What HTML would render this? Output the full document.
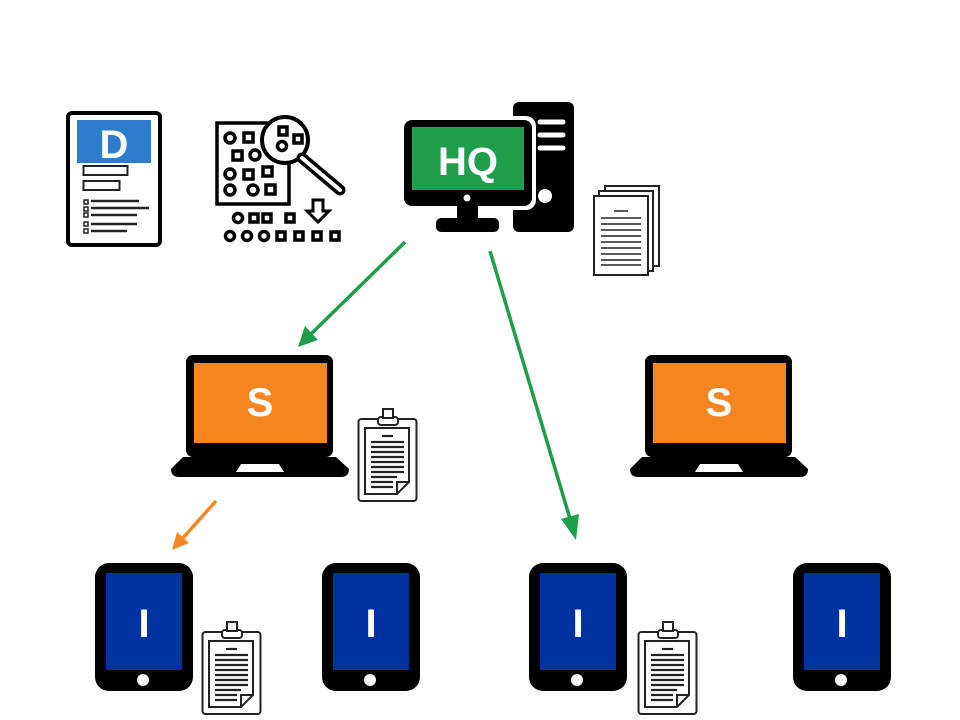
<!DOCTYPE html>
<html><head><meta charset="utf-8"><style>html,body{margin:0;padding:0;background:#fff}svg{display:block}text{font-family:"Liberation Sans",sans-serif;font-weight:bold;fill:#fff}</style></head>
<body>
<svg width="960" height="720" viewBox="0 0 960 720" xmlns="http://www.w3.org/2000/svg">
<defs>
<g id="clip">
  <rect x="1.5" y="11" width="58" height="82" rx="3" fill="#fff" stroke="#222" stroke-width="2"/>
  <path d="M8 20 H52 V74 L40 86 H8 Z" fill="#fff" stroke="#222" stroke-width="2"/>
  <path d="M40 86 V74 H52" fill="none" stroke="#222" stroke-width="2"/>
  <rect x="21" y="9" width="20" height="8" rx="3" fill="#fff" stroke="#222" stroke-width="2"/>
  <rect x="26" y="1" width="10" height="9" fill="#fff" stroke="#222" stroke-width="2"/>
  <g stroke="#222" stroke-width="2.2">
    <line x1="25" y1="28" x2="36" y2="28"/>
    <line x1="14" y1="34" x2="47" y2="34"/><line x1="14" y1="39" x2="47" y2="39"/>
    <line x1="14" y1="44" x2="47" y2="44"/><line x1="14" y1="49" x2="47" y2="49"/>
    <line x1="14" y1="54" x2="47" y2="54"/><line x1="14" y1="59" x2="47" y2="59"/>
    <line x1="14" y1="64" x2="47" y2="64"/><line x1="14" y1="69" x2="40" y2="69"/>
    <line x1="14" y1="74" x2="36" y2="74"/><line x1="14" y1="79" x2="36" y2="79"/>
  </g>
</g>
<g id="tab">
  <rect x="0" y="0" width="98" height="128" rx="14" fill="#000"/>
  <rect x="11" y="10" width="76" height="97" fill="#0033a0"/>
  <circle cx="48" cy="117" r="6" fill="#fff"/>
  <text x="49" y="74" font-size="40" text-anchor="middle">I</text>
</g>
<g id="lap">
  <rect x="15" y="0" width="147" height="102" rx="7" fill="#000"/>
  <rect x="23" y="8" width="133" height="80" fill="#f5861f"/>
  <path d="M12 102 H165 L178 114 Q178 122 170 122 H8 Q0 122 0 114 Z" fill="#000"/>
  <path d="M70 109 H108 L113 117 H65 Z" fill="#fff"/>
  <text x="89" y="61" font-size="40" text-anchor="middle">S</text>
</g>
</defs>

<!-- D document -->
<rect x="68" y="113" width="92" height="132" rx="4" fill="#fff" stroke="#000" stroke-width="4"/>
<rect x="77" y="120" width="74" height="43" fill="#2e7ccc"/>
<text x="114" y="158" font-size="40" text-anchor="middle">D</text>
<rect x="83.5" y="166" width="44" height="9" fill="#fff" stroke="#222" stroke-width="2"/>
<rect x="83.5" y="181" width="36" height="9" fill="#fff" stroke="#222" stroke-width="2"/>
<g fill="#fff" stroke="#222" stroke-width="1.5">
<rect x="84" y="200" width="4" height="4"/><rect x="84" y="207" width="4" height="4"/><rect x="84" y="213" width="4" height="4"/><rect x="84" y="222" width="4" height="4"/><rect x="84" y="229" width="4" height="4"/>
</g>
<g stroke="#222" stroke-width="2.5">
<line x1="91" y1="201" x2="139" y2="201"/><line x1="91" y1="208" x2="149" y2="208"/><line x1="91" y1="215" x2="137" y2="215"/><line x1="91" y1="224" x2="137" y2="224"/><line x1="91" y1="231" x2="127" y2="231"/>
</g>

<!-- pattern icon -->
<rect x="217" y="123" width="72" height="81" fill="#fff" stroke="#000" stroke-width="3.5"/>
<g fill="none" stroke="#000" stroke-width="3.5">
<circle cx="230" cy="138" r="5"/><rect x="244" y="133" width="9" height="9"/>
<rect x="233" y="151" width="9" height="9"/><circle cx="255" cy="155" r="5"/>
<rect x="244" y="170" width="9" height="9"/><circle cx="230" cy="174" r="5"/><rect x="263" y="167" width="9" height="9"/>
<circle cx="230" cy="190" r="5"/><circle cx="253" cy="190" r="5"/><rect x="266" y="185" width="9" height="9"/>
<circle cx="238" cy="218" r="4.5"/><rect x="250" y="214" width="8" height="8"/><rect x="263" y="214" width="8" height="8"/><rect x="286" y="214" width="8" height="8"/>
<circle cx="230" cy="236" r="4.5"/><circle cx="247" cy="236" r="4.5"/><circle cx="264" cy="236" r="4.5"/><rect x="277" y="232" width="8" height="8"/><rect x="295" y="232" width="8" height="8"/><rect x="313" y="232" width="8" height="8"/><rect x="331" y="232" width="8" height="8"/>
</g>
<circle cx="285" cy="140" r="23" fill="#fff" stroke="#000" stroke-width="4"/>
<g fill="none" stroke="#000" stroke-width="3.5">
<rect x="279" y="127" width="8" height="8"/><rect x="294" y="135" width="8" height="8"/><circle cx="282" cy="146" r="4.5"/>
</g>
<line x1="302" y1="158" x2="340" y2="190" stroke="#000" stroke-width="11" stroke-linecap="round"/>
<line x1="302" y1="158" x2="340" y2="190" stroke="#fff" stroke-width="4" stroke-linecap="round"/>
<path d="M313 200 H323 V211 H329 L318 222 L307 211 H313 Z" fill="#fff" stroke="#000" stroke-width="3"/>

<!-- HQ -->
<rect x="513" y="102" width="61" height="130" rx="6" fill="#000"/>
<g stroke="#fff" stroke-width="5" stroke-linecap="round"><line x1="540" y1="122" x2="563" y2="122"/><line x1="540" y1="135" x2="563" y2="135"/><line x1="540" y1="148" x2="563" y2="148"/></g>
<circle cx="545" cy="196" r="7" fill="#fff"/>
<rect x="400" y="116" width="136" height="94" rx="10" fill="#fff"/>
<rect x="404" y="120" width="128" height="86" rx="8" fill="#000"/>
<rect x="412" y="127" width="112" height="63" fill="#1e9e4a"/>
<circle cx="467" cy="198" r="3.5" fill="#fff"/>
<rect x="457" y="206" width="21" height="14" fill="#000"/>
<rect x="436" y="218" width="63" height="14" rx="5" fill="#000"/>
<text x="468" y="175" font-size="40" text-anchor="middle">HQ</text>

<!-- doc stack -->
<g fill="#fff" stroke="#222" stroke-width="2">
<rect x="605" y="186" width="54" height="80"/>
<rect x="599" y="191" width="54" height="80"/>
<rect x="594" y="196" width="54" height="79"/>
</g>
<g stroke="#222" stroke-width="1.5">
<line x1="614" y1="211" x2="628" y2="211"/>
<line x1="601" y1="218" x2="641" y2="218"/><line x1="601" y1="224" x2="641" y2="224"/><line x1="601" y1="230" x2="641" y2="230"/><line x1="601" y1="236" x2="641" y2="236"/><line x1="601" y1="242" x2="641" y2="242"/><line x1="601" y1="248" x2="641" y2="248"/><line x1="601" y1="254" x2="641" y2="254"/><line x1="601" y1="260" x2="641" y2="260"/><line x1="601" y1="265" x2="641" y2="265"/>
</g>

<!-- laptops -->
<use href="#lap" x="171" y="355"/>
<use href="#lap" x="630" y="355"/>
<use href="#clip" x="357" y="408"/>

<!-- tablets -->
<use href="#tab" x="95" y="563"/>
<use href="#tab" x="322" y="563"/>
<use href="#tab" x="529" y="563"/>
<use href="#tab" x="793" y="563"/>
<use href="#clip" x="201" y="621"/>
<use href="#clip" x="637" y="621"/>

<!-- arrows -->
<g stroke="#1e9e4a" stroke-width="3.5">
<line x1="405" y1="242" x2="310" y2="335"/>
<line x1="490" y1="251" x2="571" y2="522"/>
</g>
<path d="M298 347 L305 326 L318 340 Z" fill="#1e9e4a"/>
<path d="M576 540 L561 519 L579 514 Z" fill="#1e9e4a"/>
<line x1="216" y1="501" x2="182" y2="539" stroke="#f5861f" stroke-width="3.5"/>
<path d="M172 550 L177 532 L189 543 Z" fill="#f5861f"/>
</svg>
</body></html>
